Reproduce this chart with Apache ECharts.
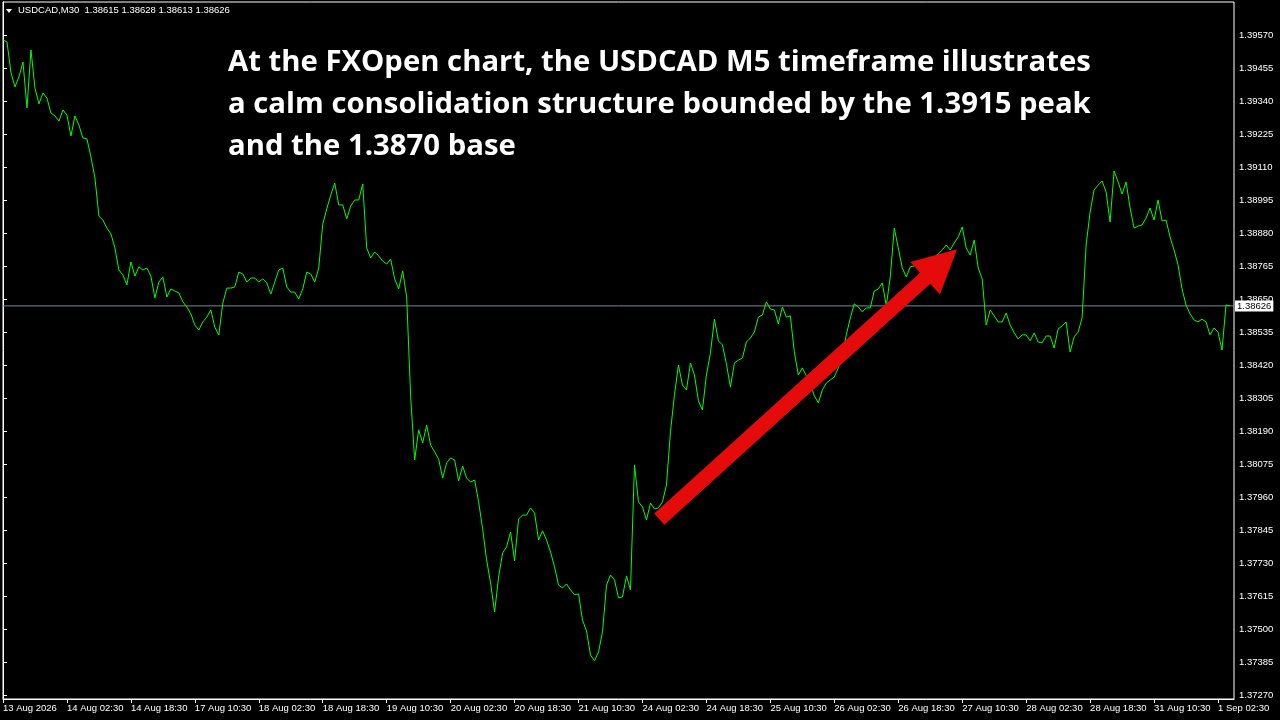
<!DOCTYPE html>
<html>
<head>
<meta charset="utf-8">
<script src="https://cdn.jsdelivr.net/npm/echarts@6/dist/echarts.min.js"></script>
<style>
html,body{margin:0;padding:0;background:#000;}
#chart{width:1280px;height:720px;}
</style>
</head>
<body>
<div id="chart"></div>
<script>
// USDCAD M30 closes, one value per hour (hour index 0 = 13 Aug 10:30)
const closes = [
1.39553,1.39546,1.39438,1.39389,1.39424,1.39476,1.39316,1.39518,1.39385,1.39330,1.39368,1.39350,1.39298,1.39288,1.39270,1.39309,
1.39291,1.39218,1.39288,1.39256,1.39211,1.39208,1.39145,1.39072,1.38939,1.38925,1.38897,1.38877,1.38828,1.38751,1.38734,1.38699,
1.38779,1.38730,1.38762,1.38751,1.38758,1.38730,1.38654,1.38709,1.38727,1.38657,1.38685,1.38678,1.38671,1.38640,1.38622,1.38598,
1.38559,1.38542,1.38570,1.38587,1.38612,1.38552,1.38525,1.38636,1.38688,1.38688,1.38692,1.38744,1.38737,1.38709,1.38723,1.38723,
1.38709,1.38720,1.38706,1.38667,1.38709,1.38751,1.38758,1.38692,1.38674,1.38674,1.38650,1.38685,1.38744,1.38737,1.38709,1.38758,
1.38911,1.38964,1.39012,1.39054,1.38978,1.38978,1.38929,1.38974,1.38995,1.38995,1.39051,1.38828,1.38793,1.38814,1.38800,1.38782,
1.38772,1.38789,1.38720,1.38685,1.38748,1.38657,1.38309,1.38089,1.38194,1.38148,1.38211,1.38141,1.38117,1.38092,1.38026,1.38079,
1.38096,1.38089,1.38016,1.38068,1.38026,1.38012,1.38019,1.37943,1.37849,1.37741,1.37660,1.37559,1.37681,1.37765,1.37786,1.37838,
1.37737,1.37883,1.37897,1.37897,1.37922,1.37904,1.37810,1.37842,1.37810,1.37768,1.37716,1.37653,1.37643,1.37657,1.37636,1.37619,
1.37622,1.37531,1.37493,1.37409,1.37389,1.37420,1.37490,1.37653,1.37688,1.37671,1.37608,1.37612,1.37685,1.37636,1.38072,1.37943,
1.37925,1.37880,1.37939,1.37918,1.37922,1.37943,1.38002,1.38187,1.38316,1.38420,1.38350,1.38333,1.38427,1.38385,1.38295,1.38263,
1.38385,1.38462,1.38580,1.38504,1.38490,1.38424,1.38343,1.38427,1.38437,1.38444,1.38500,1.38514,1.38535,1.38587,1.38594,1.38640,
1.38615,1.38612,1.38563,1.38622,1.38587,1.38591,1.38465,1.38385,1.38410,1.38382,1.38357,1.38312,1.38288,1.38333,1.38357,1.38368,
1.38378,1.38410,1.38455,1.38525,1.38584,1.38633,1.38622,1.38605,1.38619,1.38619,1.38678,1.38685,1.38706,1.38626,1.38727,1.38897,
1.38828,1.38758,1.38727,1.38762,1.38765,1.38776,1.38782,1.38789,1.38793,1.38796,1.38807,1.38821,1.38838,1.38821,1.38845,1.38866,
1.38901,1.38828,1.38803,1.38856,1.38758,1.38720,1.38559,1.38612,1.38591,1.38570,1.38570,1.38601,1.38559,1.38532,1.38511,1.38525,
1.38525,1.38504,1.38532,1.38500,1.38497,1.38521,1.38521,1.38479,1.38546,1.38556,1.38570,1.38465,1.38518,1.38535,1.38584,1.38838,
1.38953,1.39030,1.39047,1.39061,1.39023,1.38918,1.39096,1.39058,1.39016,1.39058,1.38967,1.38897,1.38904,1.38908,1.38932,1.38967,
1.38925,1.38995,1.38922,1.38925,1.38866,1.38821,1.38769,1.38685,1.38629,1.38598,1.38577,1.38570,1.38580,1.38570,1.38525,1.38549,
1.38535,1.38472,1.38629,1.38626
];

const xTickValues = [0,16,32,48,64,80,96,112,128,144,160,176,192,208,224,240,256,272,288,304];
const xTickLabels = ['13 Aug 2026','14 Aug 02:30','14 Aug 18:30','17 Aug 10:30','18 Aug 02:30','18 Aug 18:30',
  '19 Aug 10:30','20 Aug 02:30','20 Aug 18:30','21 Aug 10:30','24 Aug 02:30','24 Aug 18:30','25 Aug 10:30',
  '26 Aug 02:30','26 Aug 18:30','27 Aug 10:30','28 Aug 02:30','28 Aug 18:30','31 Aug 10:30','1 Sep 02:30'];
const yTickLabels = ['1.37270','1.37385','1.37500','1.37615','1.37730','1.37845','1.37960','1.38075','1.38190',
  '1.38305','1.38420','1.38535','1.38650','1.38765','1.38880','1.38995','1.39110','1.39225','1.39340','1.39455','1.39570'];
const yTickValues = yTickLabels.map(Number);

const lastPrice = 1.38626;
const headerText = 'USDCAD,M30  1.38615 1.38628 1.38613 1.38626';
const titleLines = [
  'At the FXOpen chart, the USDCAD M5 timeframe illustrates',
  'a calm consolidation structure bounded by the 1.3915 peak',
  'and the 1.3870 base'
];
// arrow annotation in data space [hour index, price]
const arrowTail = [164.2, 1.37883];
const arrowTip = [238.7, 1.38823];

const X_MIN = 0, X_MAX = 308;
const chart = echarts.init(document.getElementById('chart'), null, {renderer:'canvas'});
const FONT = '"Liberation Sans", Arial, sans-serif';

chart.setOption({
  backgroundColor: '#000',
  animation: false,
  grid: {left: 2, right: 46, top: 2, bottom: 21, show: true, borderColor: '#fff', borderWidth: 1, backgroundColor: 'transparent'},
  xAxis: {
    type: 'value', min: X_MIN, max: X_MAX,
    axisLine: {show: true, lineStyle: {color: '#fff', width: 1}},
    axisTick: {show: true, customValues: xTickValues, length: 4, lineStyle: {color: '#fff'}},
    axisLabel: {customValues: xTickValues, formatter: v => xTickLabels[xTickValues.indexOf(v)] || '',
      align: 'left', color: '#fff', fontSize: 9.5, fontFamily: FONT, margin: 4},
    splitLine: {show: false}
  },
  yAxis: {
    type: 'value', position: 'right', min: 1.37256, max: 1.39685,
    axisLine: {show: true, lineStyle: {color: '#fff', width: 1}},
    axisTick: {show: true, customValues: yTickValues, length: 4, lineStyle: {color: '#fff'}},
    axisLabel: {customValues: yTickValues, formatter: v => v.toFixed(5), color: '#fff', fontSize: 9.5, fontFamily: FONT, margin: 5},
    splitLine: {show: false}
  },
  series: [
    {
      type: 'line',
      name: 'price line',
      data: [[X_MIN, lastPrice], [X_MAX, lastPrice]],
      showSymbol: false,
      symbol: 'none',
      silent: true,
      clip: false,
      lineStyle: {color: '#778899', width: 1},
      z: 1,
      endLabel: {show: true, distance: 1, formatter: () => lastPrice.toFixed(5),
        backgroundColor: '#fff', color: '#000', fontSize: 9.5, fontFamily: FONT, padding: [1, 2, 0, 2]}
    },
    {
      type: 'line',
      name: 'USDCAD',
      data: closes.map((v, i) => [i, v]),
      showSymbol: false,
      symbol: 'none',
      lineStyle: {color: '#00ff00', width: 1},
      z: 3
    }
  ]
});

const a = chart.convertToPixel({gridIndex: 0}, arrowTail);
const b = chart.convertToPixel({gridIndex: 0}, arrowTip);
const dx = b[0] - a[0], dy = b[1] - a[1];
const len = Math.sqrt(dx * dx + dy * dy);
const ux = dx / len, uy = dy / len;
const nx = -uy, ny = ux;
const w = 7.5, headLen = 43, headHalf = 22;
const bx = b[0] - ux * headLen, by = b[1] - uy * headLen;
const arrowPts = [
  [a[0] + nx * w, a[1] + ny * w],
  [bx + nx * w, by + ny * w],
  [bx + nx * headHalf, by + ny * headHalf],
  [b[0], b[1]],
  [bx - nx * headHalf, by - ny * headHalf],
  [bx - nx * w, by - ny * w],
  [a[0] - nx * w, a[1] - ny * w]
];

chart.setOption({
  graphic: [
    {type: 'polygon', id: 'tri', shape: {points: [[6, 9], [12, 9], [9, 13]]}, style: {fill: '#fff'}, z: 10},
    {type: 'text', id: 'hdr', left: 18, top: 5, style: {text: headerText, fill: '#fff', font: '9.5px ' + FONT}, z: 10},
    {type: 'text', id: 'title', left: 228, top: 42, style: {text: titleLines.join('\n'), fill: '#fff',
      font: 'bold 29.3px "Open Sans", Lato, sans-serif', lineHeight: 42}, z: 10},
    {type: 'polygon', id: 'arrow', shape: {points: arrowPts}, style: {fill: '#e60b0b'}, z: 20}
  ]
});
</script>
</body>
</html>
